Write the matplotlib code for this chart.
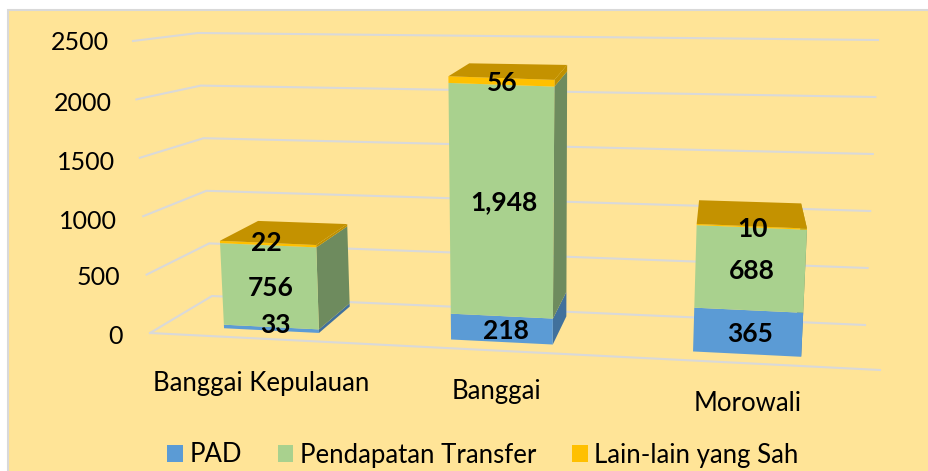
import matplotlib.pyplot as plt
from matplotlib.patches import Patch, Polygon, Rectangle

categories = ['Banggai Kepulauan', 'Banggai', 'Morowali']
pad = [33, 218, 365]
transfer = [756, 1948, 688]
lain = [22, 56, 10]
ticks = [0, 500, 1000, 1500, 2000, 2500]
series_names = ['PAD', 'Pendapatan Transfer', 'Lain-lain yang Sah']

# layout of the fake 3d box, in pixels
VMAX = 2500
corners = {
    'fl0': (150, 333), 'fr0': (880, 370), 'bl0': (212, 296), 'br0': (865, 325),
    'fl1': (133, 41), 'fr1': (898, 70), 'bl1': (198, 33), 'br1': (878, 40),
}
bar_edges = [(0.0855, 0.2185), (0.4035, 0.546), (0.7425, 0.894)]
bar_stretch = [0.94, 1.02, 1.02]
label_dy = [45, 41, 40]
tick_dy = [4, 4, 6, 6, 5, 2]
# hand nudges for the data labels, bottom to top per bar
nudge = [[(4, -6), (1, 0), (-2, -3)], [(4, 0), (2, 0), (1, 0)], [(2, 0), (2, 0), (1, 0)]]
d0, d1 = 0.21, 0.89

BG = '#FFE497'
GRID = '#D9D9D9'
front_cols = ['#5B9BD5', '#A9D18E', '#FFC000']
side_cols = ['#41719C', '#6E8B5E', '#BF9000']
top_col = '#C49200'


def project(u, d, v):
    # trilinear map from (across, depth, value) to picture pixels
    t = v / VMAX
    out = []
    for i in range(2):
        low = (1-d)*((1-u)*corners['fl0'][i] + u*corners['fr0'][i]) + d*((1-u)*corners['bl0'][i] + u*corners['br0'][i])
        high = (1-d)*((1-u)*corners['fl1'][i] + u*corners['fr1'][i]) + d*((1-u)*corners['bl1'][i] + u*corners['br1'][i])
        out.append((1-t)*low + t*high)
    return out[0], out[1]


plt.rcParams['font.family'] = ['Lato', 'DejaVu Sans']
fig = plt.figure(figsize=(9.29, 4.71), dpi=100)
ax = fig.add_axes([0, 0, 1, 1])
ax.set_xlim(0, 929)
ax.set_ylim(471, 0)
ax.axis('off')

ax.add_patch(Rectangle((8.5, 9.5), 925, 470, facecolor=BG, edgecolor=GRID, linewidth=1.5, zorder=0))

# grid lines, side wall then back wall
for v, dy in zip(ticks, tick_dy):
    a = project(0, 0, v)
    b = project(0, 1, v)
    c = project(1, 1, v)
    ax.plot([a[0], b[0], c[0]], [a[1], b[1], c[1]], color=GRID, lw=1.5, solid_joinstyle='miter', zorder=1)
    ax.text(a[0]-27+3*v/VMAX, a[1]+dy-1, str(v), ha='right', va='center', fontsize=18, color='black')
a = project(0, 0, 0)
b = project(1, 0, 0)
ax.plot([a[0], b[0]], [a[1], b[1]], color=GRID, lw=1.5, zorder=1)

for i, name in enumerate(categories):
    u0, u1 = bar_edges[i]
    s = bar_stretch[i]
    base = 0
    for vals, fc, sc in zip([pad, transfer, lain], front_cols, side_cols):
        val = vals[i]
        lo = base*s
        hi = (base+val)*s
        ax.add_patch(Polygon([project(u1, d0, lo), project(u1, d1, lo), project(u1, d1, hi), project(u1, d0, hi)],
                             facecolor=sc, edgecolor='none', zorder=2))
        ax.add_patch(Polygon([project(u0, d0, lo), project(u1, d0, lo), project(u1, d0, hi), project(u0, d0, hi)],
                             facecolor=fc, edgecolor='none', zorder=3))
        base += val
    top = base*s
    ax.add_patch(Polygon([project(u0, d0, top), project(u1, d0, top), project(u1, d1, top), project(u0, d1, top)],
                         facecolor=top_col, edgecolor='none', zorder=3))

    # data labels
    base = 0
    for j, vals in enumerate([pad, transfer, lain]):
        val = vals[i]
        x, y = project((u0+u1)/2, d0, (base+val/2)*s)
        nx, ny = nudge[i][j]
        ax.text(x+nx, y+2+ny, f'{val:,}', ha='center', va='center', fontsize=19, fontweight='bold', color='black', zorder=5)
        base += val

    x, y = project((u0+u1)/2, 0, 0)
    ax.text(x, y+label_dy[i], name, ha='center', va='center', fontsize=18.5, color='black')

handles = [Patch(facecolor=c, edgecolor='none') for c in front_cols]
ax.legend(handles, series_names, ncols=3, loc='center', bbox_to_anchor=(483, 455), bbox_transform=ax.transData,
          frameon=False, fontsize=18.5, handlelength=0.6, handleheight=0.62, handletextpad=0.25, columnspacing=1.41,
          borderpad=0, borderaxespad=0)

fig.savefig('out.png', dpi=100)
